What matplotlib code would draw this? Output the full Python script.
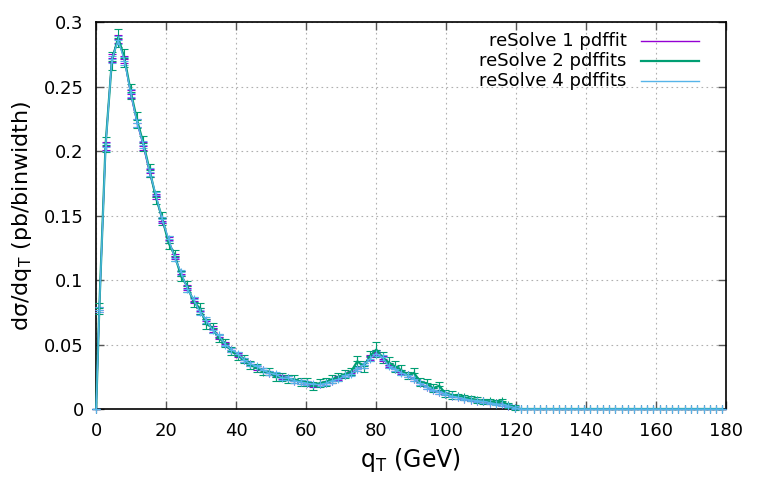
import numpy as np
import matplotlib
matplotlib.use("Agg")
import matplotlib.pyplot as plt

plt.rcParams['font.family'] = ['DejaVu Sans']
plt.rcParams['mathtext.fontset'] = 'dejavusans'

# q_T bins: 100 bins of 1.8 GeV from 0 to 180, plus origin point
bin_width = 1.8
bin_centers = np.arange(100) * bin_width + bin_width / 2
qt = np.concatenate([[0.0], bin_centers])

tail_zeros = [0.0] * 33  # empty bins above 120 GeV

res1_vals = [0.0,
    0.077, 0.204, 0.272, 0.287, 0.271, 0.244, 0.222, 0.204, 0.183, 0.165,
    0.146, 0.131, 0.118, 0.105, 0.094, 0.084, 0.076, 0.068, 0.062, 0.056,
    0.0505, 0.046, 0.042, 0.038, 0.035, 0.032, 0.030, 0.028, 0.026, 0.025,
    0.024, 0.022, 0.021, 0.020, 0.0185, 0.019, 0.020, 0.022, 0.024, 0.026,
    0.028, 0.031, 0.034, 0.040, 0.044, 0.039, 0.034, 0.031, 0.029, 0.026,
    0.023, 0.020, 0.017, 0.015, 0.013, 0.012, 0.010, 0.009, 0.008, 0.007,
    0.0065, 0.006, 0.005, 0.0045, 0.0035, 0.0025, 0.001] + tail_zeros
res1_errs = [0.0,
    0.002, 0.003, 0.003, 0.003, 0.003, 0.003, 0.003, 0.003, 0.003, 0.002,
    0.002, 0.002, 0.002, 0.002, 0.002, 0.002, 0.002, 0.002, 0.002, 0.0015,
    0.0015, 0.0015, 0.0015, 0.0015, 0.0015, 0.0015, 0.0015, 0.0015, 0.0015, 0.0015,
    0.0015, 0.0015, 0.0015, 0.0015, 0.0015, 0.0015, 0.0015, 0.0015, 0.0015, 0.0015,
    0.0015, 0.0015, 0.002, 0.002, 0.002, 0.002, 0.0015, 0.0015, 0.0015, 0.0015,
    0.0015, 0.0015, 0.0015, 0.001, 0.001, 0.001, 0.001, 0.001, 0.001, 0.001,
    0.001, 0.001, 0.001, 0.001, 0.001, 0.001, 0.001] + tail_zeros

res2_vals = [0.0,
    0.078, 0.205, 0.270, 0.288, 0.272, 0.246, 0.224, 0.206, 0.185, 0.164,
    0.148, 0.129, 0.119, 0.103, 0.095, 0.083, 0.078, 0.066, 0.063, 0.055,
    0.051, 0.045, 0.041, 0.039, 0.034, 0.032, 0.029, 0.029, 0.025, 0.025,
    0.023, 0.023, 0.021, 0.021, 0.018, 0.020, 0.021, 0.023, 0.025, 0.027,
    0.029, 0.037, 0.033, 0.041, 0.046, 0.040, 0.036, 0.033, 0.030, 0.026,
    0.028, 0.021, 0.020, 0.016, 0.018, 0.012, 0.011, 0.010, 0.009, 0.008,
    0.007, 0.006, 0.006, 0.005, 0.006, 0.003, 0.001] + tail_zeros
res2_errs = [0.0,
    0.004, 0.006, 0.007, 0.007, 0.007, 0.006, 0.006, 0.006, 0.005, 0.005,
    0.005, 0.005, 0.004, 0.004, 0.004, 0.004, 0.004, 0.004, 0.004, 0.003,
    0.003, 0.003, 0.003, 0.003, 0.003, 0.003, 0.003, 0.003, 0.003, 0.003,
    0.003, 0.003, 0.003, 0.003, 0.003, 0.003, 0.003, 0.003, 0.003, 0.003,
    0.003, 0.004, 0.004, 0.004, 0.006, 0.004, 0.004, 0.004, 0.004, 0.003,
    0.004, 0.003, 0.003, 0.003, 0.003, 0.003, 0.003, 0.002, 0.002, 0.002,
    0.002, 0.002, 0.002, 0.002, 0.002, 0.002, 0.002] + tail_zeros

res4_vals = [0.0,
    0.077, 0.203, 0.271, 0.286, 0.270, 0.245, 0.222, 0.205, 0.184, 0.166,
    0.147, 0.132, 0.117, 0.106, 0.093, 0.085, 0.075, 0.069, 0.061, 0.057,
    0.050, 0.046, 0.043, 0.038, 0.035, 0.033, 0.030, 0.028, 0.027, 0.024,
    0.024, 0.022, 0.021, 0.020, 0.019, 0.019, 0.020, 0.022, 0.023, 0.026,
    0.027, 0.031, 0.034, 0.039, 0.043, 0.040, 0.033, 0.031, 0.028, 0.026,
    0.023, 0.020, 0.017, 0.015, 0.013, 0.012, 0.010, 0.009, 0.008, 0.007,
    0.0065, 0.006, 0.005, 0.004, 0.0035, 0.0025, 0.001] + tail_zeros
res4_errs = res1_errs

colors = ['#9400d3', '#009e73', '#56b4e9']
labels = ['reSolve 1 pdffit', 'reSolve 2 pdffits', 'reSolve 4 pdffits']
series_vals = [res1_vals, res2_vals, res4_vals]
series_errs = [res1_errs, res2_errs, res4_errs]
line_widths = [1.0, 1.6, 1.0]

fig = plt.figure(figsize=(7.63, 4.91), dpi=100)
ax = fig.add_axes([0.126, 0.167, 0.825, 0.788])

for vals, errs, c, lw in zip(series_vals, series_errs, colors, line_widths):
    ax.errorbar(qt, vals, yerr=errs, color=c, lw=lw, elinewidth=0.8,
                capsize=3, capthick=0.8, marker='+', markersize=6,
                markeredgewidth=0.8, clip_on=False, zorder=3)

ax.set_xlim(0, 180)
ax.set_ylim(0, 0.3)
ax.set_xticks(np.arange(0, 181, 20))
ax.set_yticks([0, 0.05, 0.1, 0.15, 0.2, 0.25, 0.3])
ax.set_yticklabels(['0', '0.05', '0.1', '0.15', '0.2', '0.25', '0.3'])
ax.grid(True, color='#b0b0b0', linestyle=(0, (1.5, 3)), linewidth=0.8)
ax.tick_params(direction='in', length=6, width=1, top=True, right=True,
               labelsize=13, pad=9, color='#555555')
for s in ax.spines.values():
    s.set_linewidth(1.2)
    s.set_color('black')

ax.set_xlabel(r'q$_\mathrm{T}$ (GeV)', fontsize=17, labelpad=5)
ax.set_ylabel(r'd$\mathrm{\sigma}$/dq$_\mathrm{T}$ (pb/binwidth)', fontsize=16, labelpad=7)

# gnuplot-style legend: right-aligned text, line sample to the right
rows_y = [0.95, 0.90, 0.848]
for lab, c, lw, yy in zip(labels, colors, line_widths, rows_y):
    ax.text(0.843, yy, lab, transform=ax.transAxes, ha='right', va='center', fontsize=13)
    ax.plot([0.866, 0.957], [yy, yy], transform=ax.transAxes, color=c, lw=lw)

fig.savefig('out.png', dpi=100)
